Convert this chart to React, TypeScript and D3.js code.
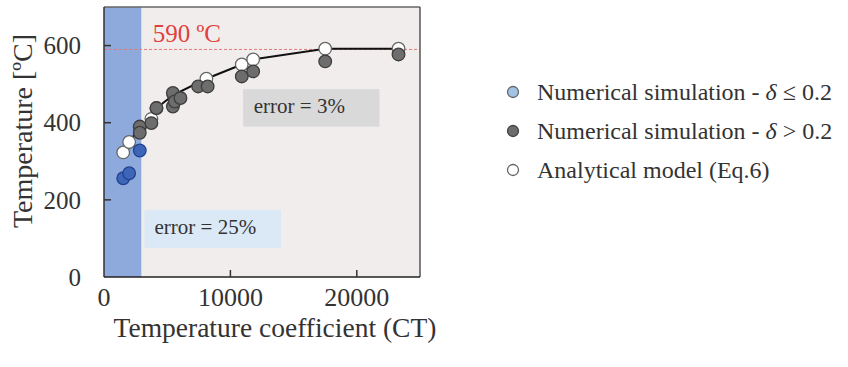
import React from "react";
import * as d3 from "d3";

// Numerical simulation, delta <= 0.2
const lowDeltaCT = [1520, 1990, 2830];
const lowDeltaT = [256, 269, 328];

// Numerical simulation, delta > 0.2
const highDeltaCT = [2830, 2830, 3750, 4150, 5450, 5450, 5600, 6050, 7450, 8200, 10900, 11800, 17500, 23300];
const highDeltaT = [390, 374, 399, 438, 477, 442, 455, 464, 494, 494, 520, 533, 559, 577];

// Analytical model (Eq.6)
const modelCT = [1520, 1990, 2830, 3750, 4150, 5500, 8100, 10900, 11800, 17500, 23300];
const modelT = [323, 350, 388, 410, 438, 472, 514, 551, 564, 592, 592];

const xTicks = [0, 10000, 20000];
const yTicks = [0, 200, 400, 600];
const limitT = 590;
const blueZoneEnd = 2950;

const legendLabels = ["Numerical simulation - ", "Numerical simulation - ", "Analytical model (Eq.6)"];
const legendDelta = ["≤ 0.2", "> 0.2", ""];

const W = 848;
const H = 367;
const M = { left: 104, top: 7, right: 420, bottom: 277 };
const FONT = "'Liberation Serif', 'Times New Roman', serif";

export default function App() {
  const x = d3.scaleLinear().domain([0, 25000]).range([M.left, M.right]);
  const y = d3.scaleLinear().domain([0, 700]).range([M.bottom, M.top]);

  const modelPts: [number, number][] = modelCT.map((c, i) => [c, modelT[i]]);
  const linePts = modelPts.slice(1);
  const line = d3
    .line<[number, number]>()
    .x((d) => x(d[0]))
    .y((d) => y(d[1]));

  const r = 6.3;

  return (
    <svg width={W} height={H} style={{ position: "absolute", left: 0, top: 0, background: "#fff" }}>
      {/* plot background */}
      <rect x={M.left} y={M.top} width={M.right - M.left} height={M.bottom - M.top} fill="#f1eded" />
      <rect x={x(0)} y={M.top} width={x(blueZoneEnd) - x(0)} height={M.bottom - M.top} fill="#8eaadc" />

      {/* annotation boxes */}
      <rect x={x(11000)} y={y(487)} width={x(21800) - x(11000)} height={y(390) - y(487)} fill="#d9d9d9" />
      <text x={x(11850)} y={y(424)} fontFamily={FONT} fontSize={21} fill="#333">error = 3%</text>
      <rect x={x(3200)} y={y(174)} width={x(14000) - x(3200)} height={y(75) - y(174)} fill="#dbe8f6" />
      <text x={x(4000)} y={y(111)} fontFamily={FONT} fontSize={21} fill="#333">error = 25%</text>

      {/* 590 limit */}
      <line x1={M.left} x2={M.right} y1={y(limitT)} y2={y(limitT)} stroke="#e07a7a" strokeWidth={1} strokeDasharray="3,2" />
      <text x={x(3850)} y={y(limitT) - 7} fontFamily={FONT} fontSize={25} fill="#e0403e">590 ºC</text>

      {/* model curve */}
      <path d={line(linePts) || ""} fill="none" stroke="#111" strokeWidth={2} />

      {/* points */}
      {modelPts.map((p, i) => (
        <circle key={"m" + i} cx={x(p[0])} cy={y(p[1])} r={r} fill="#fff" stroke="#666" strokeWidth={1.3} />
      ))}
      {highDeltaCT.map((c, i) => (
        <circle key={"h" + i} cx={x(c)} cy={y(highDeltaT[i])} r={r} fill="#6d6d6d" stroke="#3d3d3d" strokeWidth={1.3} />
      ))}
      {lowDeltaCT.map((c, i) => (
        <circle key={"l" + i} cx={x(c)} cy={y(lowDeltaT[i])} r={r} fill="#3d66b8" stroke="#22438f" strokeWidth={1.3} />
      ))}

      {/* frame */}
      <line x1={M.left} x2={M.right} y1={M.top} y2={M.top} stroke="#666" strokeWidth={1.5} />
      <line x1={M.right} x2={M.right} y1={M.top} y2={M.bottom} stroke="#555" strokeWidth={1.5} />
      <line x1={M.left} x2={M.left} y1={M.top} y2={M.bottom} stroke="#333" strokeWidth={1.5} />
      <line x1={M.left} x2={M.right} y1={M.bottom} y2={M.bottom} stroke="#222" strokeWidth={1.5} />

      {/* y axis */}
      {yTicks.map((t) => (
        <g key={"yt" + t}>
          {t > 0 && <line x1={M.left} x2={M.left + 7} y1={y(t)} y2={y(t)} stroke="#333" strokeWidth={1.5} />}
          <text x={81} y={y(t)} dy="0.35em" textAnchor="end" fontFamily={FONT} fontSize={25} fill="#333">
            {t}
          </text>
        </g>
      ))}
      <text
        transform={`translate(32,131) rotate(-90)`}
        textAnchor="middle"
        fontFamily={FONT}
        fontSize={28}
        fill="#333"
      >
        Temperature [ºC]
      </text>

      {/* x axis */}
      {xTicks.map((t) => (
        <g key={"xt" + t}>
          {t > 0 && <line x1={x(t)} x2={x(t)} y1={M.bottom} y2={M.bottom - 7} stroke="#333" strokeWidth={1.5} />}
          <text x={x(t)} y={306} textAnchor="middle" fontFamily={FONT} fontSize={26} fill="#333">
            {t}
          </text>
        </g>
      ))}
      <text x={275} y={337} textAnchor="middle" fontFamily={FONT} fontSize={27.5} fill="#333">
        Temperature coefficient (CT)
      </text>

      {/* legend */}
      {legendLabels.map((lab, i) => {
        const cy = 92 + i * 39;
        const fills = ["#a3c3e6", "#6d6d6d", "#fff"];
        const strokes = ["#666", "#444", "#666"];
        return (
          <g key={"lg" + i}>
            <circle cx={513} cy={cy} r={5.5} fill={fills[i]} stroke={strokes[i]} strokeWidth={1.3} />
            <text x={537} y={cy} dy="0.35em" fontFamily={FONT} fontSize={24} fill="#333">
              {lab}
              {legendDelta[i] && <tspan fontStyle="italic">δ</tspan>}
              {legendDelta[i] && <tspan> {legendDelta[i]}</tspan>}
            </text>
          </g>
        );
      })}
    </svg>
  );
}
